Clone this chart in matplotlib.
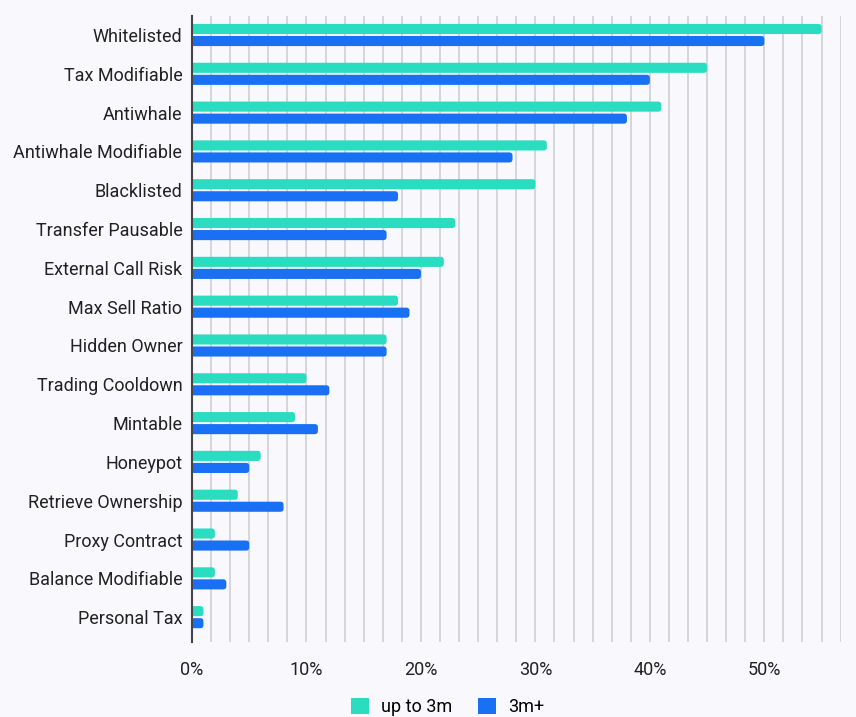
import numpy as np
import matplotlib
matplotlib.use("Agg")
from matplotlib import pyplot as plt
from matplotlib.patches import Patch, FancyBboxPatch

categories = ["Whitelisted", "Tax Modifiable", "Antiwhale", "Antiwhale Modifiable",
              "Blacklisted", "Transfer Pausable", "External Call Risk", "Max Sell Ratio",
              "Hidden Owner", "Trading Cooldown", "Mintable", "Honeypot",
              "Retrieve Ownership", "Proxy Contract", "Balance Modifiable", "Personal Tax"]
up_to_3m = [55, 45, 41, 31, 30, 23, 22, 18, 17, 10, 9, 6, 4, 2, 2, 1]
over_3m = [50, 40, 38, 28, 18, 17, 20, 19, 17, 12, 11, 5, 8, 5, 3, 1]
series_names = ["up to 3m", "3m+"]
tick_values = [0, 10, 20, 30, 40, 50]

teal = "#2adcc0"
blue = "#1a70f5"
bg = "#f8f8fd"

plt.rcParams['font.family'] = ['Roboto', 'DejaVu Sans']


def round_bars(ax, bars, color):
    """swap plain bars for ones with rounded right ends"""
    for b in bars:
        x, yy = b.get_x(), b.get_y()
        w, hh = b.get_width(), b.get_height()
        b.remove()
        p = FancyBboxPatch((x - 0.6, yy), w + 0.6, hh,
                           boxstyle="round,pad=0,rounding_size=0.28",
                           mutation_aspect=0.295, facecolor=color,
                           edgecolor="none", zorder=3)
        ax.add_patch(p)


fig = plt.figure(figsize=(8.56, 7.17), dpi=100, facecolor=bg)
ax = fig.add_axes([0.2243, 0.1046, 0.7582, 0.8731])
ax.set_facecolor(bg)

y = np.arange(len(categories))
h = 0.26
b1 = ax.barh(y - 0.155, up_to_3m, height=h, color=teal, zorder=3)
b2 = ax.barh(y + 0.155, over_3m, height=h, color=blue, zorder=3)
round_bars(ax, b1, teal)
round_bars(ax, b2, blue)

ax.set_xlim(0, 56.7)
ax.set_ylim(15.64, -0.49)

ax.set_yticks(y)
ax.set_yticklabels(categories, fontsize=13, color="#222222")
ax.set_xticks(tick_values)
ax.set_xticklabels([f"{v}%" for v in tick_values], fontsize=13, color="#222222")
ax.set_xticks(np.arange(0, 56.7, 10 / 6), minor=True)
ax.tick_params(axis="both", which="both", length=0)
ax.tick_params(axis="y", pad=7)
ax.tick_params(axis="x", pad=14)

ax.grid(axis="x", which="both", color="#d2d2d8", linewidth=1.3, zorder=0)
ax.grid(axis="y", visible=False)

for s in ["top", "right", "bottom"]:
    ax.spines[s].set_visible(False)
ax.spines["left"].set_color("#444444")
ax.spines["left"].set_linewidth(1.5)
ax.spines["left"].set_zorder(4)

handles = [Patch(facecolor=teal, label=series_names[0]),
           Patch(facecolor=blue, label=series_names[1])]
fig.legend(handles=handles, loc="center", bbox_to_anchor=(0.523, 0.014), ncol=2,
           frameon=False, fontsize=13, handlelength=1.0, handleheight=1.0,
           columnspacing=1.4, handletextpad=0.7)

fig.savefig("out.png", dpi=100, facecolor=bg)
